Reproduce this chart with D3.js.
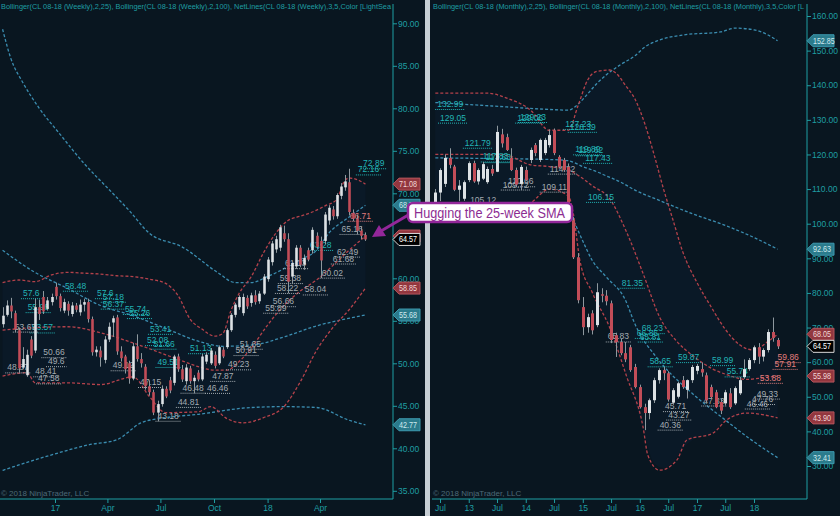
<!DOCTYPE html>
<html lang="en">
<head>
<meta charset="UTF-8">
<title>CL 08-18 Weekly / Monthly</title>
<script src="https://d3js.org/d3.v7.min.js"></script>
<style>
  body { margin: 0; background: #091620; }
  svg text { font-family: "Liberation Sans", Arial, sans-serif; }
</style>
</head>
<body>
<svg id="chart" width="840" height="516"></svg>
<script>
// ---- weekly panel (left) ----
const weekStart = new Date(2016, 9, 3);
// [open, high, low, close] per week
const weeklyOHLC = [
  [54.6,56.6,54.2,55.6],[55.7,57.4,55.5,56.8],[56.8,57.7,55.3,56.1],[55.9,56.2,53.67,54.0],[53.9,54.2,48.9,49.4],
  [49.5,51.9,49.3,50.5],[48.6,51.6,48.41,51.0],[52.8,53.2,50.6,50.9],[51.5,57.6,51.2,56.6],[56.6,57.5,55.1,55.8],
  [57.8,58.5,55.8,56.1],[56.4,57.8,56.2,57.4],[57.2,58.2,56.8,57.8],[59.0,59.48,57.5,57.9],[57.9,58.2,56.1,56.5],
  [56.2,57.6,55.9,57.2],[57.0,57.3,55.6,56.2],[55.8,57.2,55.5,56.8],[56.8,57.1,56.0,56.3],[56.0,57.5,55.6,56.9],
  [56.9,57.6,56.1,57.2],[57.2,57.6,54.8,55.2],[55.2,55.5,50.9,51.3],[51.3,52.0,50.8,51.6],[51.5,52.0,49.6,50.7],
  [50.4,53.2,50.0,52.8],[52.8,54.8,52.5,54.3],[54.8,55.6,53.1,55.3],[55.4,55.7,51.0,51.4],[51.4,52.0,50.2,50.6],
  [50.8,51.0,48.8,49.3],[50.0,50.3,47.6,48.2],[48.2,52.4,48.0,52.0],[52.0,53.41,50.2,50.5],[50.5,51.2,49.5,50.0],
  [49.6,49.9,46.9,47.3],[47.3,48.0,46.2,46.6],[46.6,46.9,43.9,44.2],[44.2,45.6,43.18,45.2],[45.2,47.4,44.9,47.0],
  [47.0,47.3,45.9,46.1],[48.0,48.4,46.48,46.8],[47.7,51.0,47.4,50.8],[50.8,51.13,49.0,49.3],[49.3,49.8,47.8,48.1],
  [47.9,49.9,47.5,49.5],[49.4,49.7,47.6,47.9],[47.9,48.6,46.46,48.3],[48.9,49.2,47.87,48.1],[48.1,51.1,47.9,50.8],
  [50.2,51.3,49.9,51.0],[50.0,51.8,49.8,51.5],[51.0,51.4,49.4,49.7],[50.0,52.1,49.8,51.9],[51.6,51.9,50.6,50.8],
  [51.9,54.1,51.7,53.9],[53.9,55.9,53.7,55.7],[55.7,57.1,55.4,56.9],[56.6,58.0,56.3,57.8],[55.9,58.2,55.6,57.8],
  [57.7,58.0,56.4,56.7],[57.1,58.3,56.66,58.0],[58.0,58.6,56.9,57.2],[57.3,58.5,57.0,58.2],[58.2,60.5,58.04,60.2],
  [59.9,62.5,59.6,62.2],[61.9,64.4,61.5,64.1],[63.4,65.0,63.0,64.6],[63.6,66.3,63.2,66.0],[65.3,66.2,64.3,64.6],
  [64.6,65.3,58.22,59.6],[60.2,62.0,59.38,61.8],[61.4,63.9,61.1,63.6],[63.6,63.9,61.3,61.6],[61.6,62.8,61.0,62.4],
  [63.3,63.6,62.0,62.2],[63.3,66.0,62.9,65.7],[65.0,65.4,63.5,63.7],[64.4,64.9,60.02,62.1],[64.4,67.8,64.0,67.5],
  [66.8,68.6,66.3,68.3],[68.1,68.5,66.9,67.3],[67.3,70.0,67.0,69.8],[69.7,71.2,69.3,70.8],[70.7,72.16,70.3,71.4],
  [71.3,72.89,67.4,67.8],[67.7,68.1,66.71,67.0],[67.0,67.5,65.16,65.6],[65.6,66.1,64.6,65.0],[65.1,65.4,64.4,64.57]
];
// Bollinger bands, [week index, value]
const wkBB25Upper = [[0,59.5],[4,59.8],[8,59.6],[12,60.4],[16,60.7],[20,60.6],[24,60.5],[28,60.3],[32,60.2],[36,59.9],[40,59.4],[43,58.0],[46,55.2],[49,54.0],[52,53.2],[54,53.5],[56,56.2],[58,58.2],[61,60.2],[64,63.0],[67,65.3],[70,66.8],[73,67.3],[76,67.8],[79,68.5],[82,69.3],[83.5,71.2],[85,71.8],[87,71.6],[89,71.08]];
const wkBB25Mid = [[0,53.9],[8,54.2],[16,54.3],[24,53.6],[32,52.4],[40,51.0],[44,50.3],[48,49.6],[52,49.2],[55,49.2],[58,50.2],[61,51.8],[65,54.5],[69,56.8],[73,58.5],[77,59.8],[81,61.5],[85,63.3],[89,64.97]];
const wkBB25Lower = [[0,48.5],[6,48.9],[8,47.7],[16,47.7],[24,47.5],[32,48.4],[36,46.1],[40,44.2],[48,44.3],[51,44.9],[55,43.5],[59,43.0],[64,43.6],[69,44.9],[73,47.8],[77,51.5],[81,54.2],[85,56.3],[89,58.85]];
const wkBB100Upper = [[0,89.3],[2,85.9],[5,83.0],[9,80.0],[14,77.0],[20,73.5],[26,70.5],[31,68.0],[36,65.3],[44,63.7],[53,60.6],[57,59.5],[61,59.5],[65,60.2],[73,62.2],[77,63.3],[80,65.3],[85,67.2],[89,68.59]];
const wkBB100Mid = [[0,63.3],[7.5,60.8],[16,58.8],[24,56.8],[32,55.6],[40,54.1],[48,52.6],[54,52.0],[62,52.2],[69,53.1],[77,54.4],[83,55.1],[89,55.68]];
const wkBB100Lower = [[0,37.4],[7,38.5],[14,39.5],[21,40.4],[28,41.0],[34,43.0],[40,43.6],[48,44.0],[61,44.8],[69,44.9],[77,44.8],[85,43.3],[89,42.77]];
// swing labels [week index, price]
const wkHighs = [[5,57.6],[15.3,58.48],[6.2,55.96],[7.2,53.57],[23.2,57.6],[24.6,57.18],[24.6,56.37],[30,55.74],[31,55.26],[36.2,53.41],[35.4,52.08],[37,51.66],[38,49.51],[46,51.13],[75.4,63.28],[88.4,72.89],[87.2,72.16]];
const wkLows = [[3,53.67],[1.1,48.87],[10,50.66],[11.1,49.6],[8,48.41],[8.7,47.58],[27,49.12],[33.7,47.15],[44.2,46.48],[43,44.81],[38,43.18],[50.1,46.46],[51.4,47.87],[55.3,49.23],[58.2,51.65],[57.2,50.91],[66.3,56.66],[64.4,55.89],[67.3,58.22],[68,59.38],[74.2,58.04],[78.3,60.02],[82,62.49],[81,61.68],[83.2,65.16],[69.3,61.13]];
const wkRecent = [[85.2,66.71]];
const wkTicks = ["17", "Apr", "Jul", "Oct", "18", "Apr"];
const wkTickDates = [new Date(2017,0,1), new Date(2017,3,1), new Date(2017,6,1), new Date(2017,9,1), new Date(2018,0,1), new Date(2018,3,1)];

// ---- monthly panel (right) ----
const monthStart = new Date(2012, 5, 1);
const monthlyOHLC = [
  [105.0,110.0,104.2,109.0],[109.0,116.0,106.5,115.5],[111.5,120.0,110.6,119.0],[119.0,121.79,116.0,117.0],[116.5,117.0,109.4,109.8],
  [109.8,112.6,106.5,111.0],[107.2,112.5,106.6,112.0],[112.6,118.0,112.0,117.5],[117.5,118.2,111.8,112.2],[112.2,116.0,111.3,115.5],
  [113.0,117.83,112.6,117.2],[112.0,116.5,111.5,115.8],[115.8,117.0,113.8,114.5],[115.0,128.3,114.9,126.5],[125.8,127.4,122.0,123.2],
  [125.0,126.0,121.0,121.3],[119.0,121.8,115.2,115.5],[115.5,116.2,110.66,111.3],[111.5,117.0,109.72,116.4],[115.5,116.5,112.3,112.6],
  [118.4,122.0,117.5,121.3],[122.7,123.3,119.5,120.4],[118.4,124.6,117.8,124.2],[120.4,124.8,119.8,124.2],[122.7,127.23,122.0,125.6],
  [127.0,127.5,119.8,120.4],[119.3,119.8,116.0,116.4],[118.4,119.0,115.0,115.5],[116.4,117.4,100.5,101.0],[101.0,102.0,89.8,90.3],
  [90.3,91.5,77.0,77.9],[75.9,78.8,67.8,70.1],[70.1,74.0,68.5,73.0],[74.1,75.0,68.0,69.2],[70.7,82.8,70.1,80.2],
  [79.6,81.35,77.3,79.2],[79.2,80.8,76.4,77.6],[77.0,77.8,65.5,66.4],[67.8,68.5,61.5,65.8],[65.8,66.86,62.0,62.6],
  [62.6,65.81,60.0,60.8],[64.3,65.0,57.2,57.7],[58.6,59.5,52.4,52.8],[52.8,53.5,46.6,47.0],[47.0,48.0,40.36,45.3],
  [45.3,49.5,43.5,49.0],[49.0,55.5,48.2,54.8],[54.8,58.2,53.8,57.7],[57.7,58.65,54.8,56.8],[56.8,57.4,48.6,49.2],
  [48.3,52.5,47.7,51.9],[50.0,54.3,49.5,53.9],[54.8,56.0,52.3,52.8],[52.0,55.0,49.5,54.8],[54.8,59.2,54.0,58.6],
  [57.5,59.5,56.5,58.9],[58.0,59.87,55.8,57.0],[56.2,57.0,48.5,49.0],[52.8,53.5,49.5,49.9],[51.3,52.0,46.7,47.0],
  [48.5,49.5,45.0,46.0],[48.1,52.0,47.5,51.3],[51.0,52.5,46.5,47.0],[48.1,53.0,47.6,52.5],[51.0,55.74,50.5,54.8],
  [55.7,60.8,55.2,58.0],[58.0,61.2,57.5,60.6],[60.6,64.8,59.7,64.3],[64.3,65.5,59.5,61.6],[61.6,64.0,60.2,63.5],
  [63.5,69.5,62.8,68.7],[68.7,72.89,65.9,67.0],[66.4,67.0,63.8,64.57]
];
// [month index from Jun 2012, value]
const moBB25Upper = [[0,137.7],[11,137.7],[15,136.3],[20,132.8],[24,127],[28,127],[30,134],[32,141.5],[34,144],[36.7,144.4],[38,143.5],[40,140],[42,136],[44,129],[46,120],[48,110],[50,101],[52,92],[55,83],[58,76],[61,69.5],[64,65],[67,63.5],[70,66],[72,68.05]];
const moBB25Mid = [[0,120],[11,120],[15,119.7],[20,117],[24,116.5],[28,115.5],[30,114],[33,111],[36.7,107.2],[40.3,97.4],[43.7,85.6],[47.2,73],[50.8,66],[54,62],[58.4,58],[61.3,56.4],[65.5,55],[69,55.5],[72,55.98]];
const moBB25Lower = [[0,102.5],[11,102.5],[15,103],[20,106],[24,110],[28,108],[29,103],[30.4,89.5],[33.1,80],[36.7,70],[40.3,55.7],[43.7,41.2],[44.7,33],[47.2,28.8],[50.8,31.7],[52.9,37.5],[58.4,39.5],[61.3,43.3],[65.5,45.3],[72,43.9]];
const moBB100Upper = [[0,135],[12,134],[24,133],[28,132.8],[30,134.5],[32,137.5],[34,140.5],[36,143],[39,146],[42,148.5],[44,151],[47,153],[52,154.5],[60,155.4],[63,156.5],[67,156],[70,154.5],[72,152.85]];
const moBB100Mid = [[0,119],[13,118.8],[25,118.5],[28,118.2],[31,116.5],[34,115],[36,113.8],[39,112],[42,109.7],[47,106.8],[54,102.9],[61,99.5],[67,96],[72,92.63]];
const moBB100Lower = [[0,103],[13,103.6],[25,104],[28,103.5],[29,101],[31,95],[33,89.5],[36,84.6],[40,77.9],[42,71],[47,60.6],[54,51],[61,43.3],[66,38],[72,32.41]];
const moHighs = [[0.4,132.99],[1,129.05],[6.2,121.79],[10,117.83],[10.6,117.63],[17.2,129.06],[17.8,129.23],[27.3,127.23],[28.3,126.39],[29.4,119.89],[30,119.62],[31.5,117.43],[32.1,106.15],[39.2,81.35],[43.4,68.23],[42.4,66.86],[43,65.81],[45.1,58.65],[51,59.87],[58.2,58.99],[61.3,55.74]];
const moLows = [[7.3,105.12],[15.3,110.66],[14.2,109.72],[22.4,109.11],[24.1,114.32],[36.3,65.83],[47.2,40.36],[48.3,45.71],[49,43.27],[56.3,47.33],[67.6,49.33],[65.5,46.46],[66.6,47.76]];
const moRecent = [[72,59.86],[71.4,57.91],[68.2,53.88]];
const moTicks = ["Jul", "13", "Jul", "14", "Jul", "15", "Jul", "16", "Jul", "17", "Jul", "18"];
const moTickDates = d3.range(12).map(k => new Date(2012 + Math.floor((k + 1) / 2), k % 2 === 0 ? 6 : 0, 1));

// ---- colours ----
const teal = "#1f9ea3", upFill = "#dde2e5", dnFill = "#c24d58", wickCol = "#8e989e";
const redBand = "#b4424b", tealBand = "#3b8db0";
const hiCol = "#22b4b6", loCol = "#a3abb1", recentCol = "#e27d7d";

const svg = d3.select("#chart");
svg.append("rect").attr("width", 840).attr("height", 516).attr("fill", "#091620");

function panel(opt) {
  const g = svg.append("g");
  const x = opt.x, y = opt.y;
  const clipId = "clip" + opt.id;
  svg.append("clipPath").attr("id", clipId).append("rect")
    .attr("x", opt.left).attr("y", 0).attr("width", opt.axisX - opt.left).attr("height", opt.bottom);
  const plot = g.append("g").attr("clip-path", "url(#" + clipId + ")");
  const dateOf = opt.dateOf;

  // faint shading inside the 25-period band
  const area = d3.area().x(d => x(dateOf(d[0]))).y0(d => y(d[1])).y1(d => y(d[2])).curve(d3.curveMonotoneX);
  const bandPts = opt.bb25u.map(d => [d[0], d[1], interp(opt.bb25l, d[0])]);
  plot.append("path").attr("d", area(bandPts)).attr("fill", "#16305a").attr("opacity", 0.13);

  // bands
  const line = d3.line().x(d => x(dateOf(d[0]))).y(d => y(d[1])).curve(d3.curveMonotoneX);
  [[opt.bb100u, tealBand], [opt.bb100m, tealBand], [opt.bb100l, tealBand],
   [opt.bb25u, redBand], [opt.bb25m, redBand], [opt.bb25l, redBand]].forEach(b => {
    plot.append("path").attr("d", line(b[0])).attr("fill", "none")
      .attr("stroke", b[1]).attr("stroke-width", 1.3).attr("stroke-dasharray", "3,2");
  });

  // swing labels
  function labels(list, col) {
    list.forEach(d => {
      const lx = x(dateOf(d[0])), ly = y(d[1]);
      const t = plot.append("text").attr("x", lx).attr("y", ly - 2.5)
        .attr("font-size", 8.5).attr("fill", col).text(String(d[1]));
      const w = t.node().getComputedTextLength();
      plot.append("line").attr("x1", lx - 2).attr("x2", lx + w + 2).attr("y1", ly).attr("y2", ly)
        .attr("stroke", col).attr("stroke-width", 1).attr("stroke-dasharray", "1,1");
    });
  }
  labels(opt.highs, hiCol);
  labels(opt.lows, loCol);
  labels(opt.recent, recentCol);

  // candles
  const bw = opt.bodyW;
  opt.ohlc.forEach((d, i) => {
    const cx = Math.round(x(dateOf(i))) + 0.5;
    const up = d[3] >= d[0];
    plot.append("line").attr("x1", cx).attr("x2", cx).attr("y1", y(d[1])).attr("y2", y(d[2]))
      .attr("stroke", wickCol).attr("stroke-width", 1);
    const top = y(Math.max(d[0], d[3])), bot = y(Math.min(d[0], d[3]));
    plot.append("rect").attr("x", cx - bw / 2).attr("y", top).attr("width", bw)
      .attr("height", Math.max(1, bot - top)).attr("fill", up ? upFill : dnFill);
  });

  // header and copyright
  plot.append("text").attr("x", opt.left + 1).attr("y", 9).attr("font-size", 8)
    .attr("textLength", opt.titleW).attr("lengthAdjust", "spacingAndGlyphs")
    .attr("fill", teal).text(opt.title);
  plot.append("text").attr("x", opt.left + 1).attr("y", 496).attr("font-size", 8)
    .attr("fill", "#4d6a78").text("\u00a9 2018 NinjaTrader, LLC");

  // axes
  g.append("line").attr("x1", opt.axisX).attr("x2", opt.axisX).attr("y1", 4).attr("y2", opt.bottom)
    .attr("stroke", teal).attr("stroke-width", 1);
  g.append("line").attr("x1", opt.left).attr("x2", opt.axisX).attr("y1", opt.bottom).attr("y2", opt.bottom)
    .attr("stroke", teal).attr("stroke-width", 1);
  const yAxis = d3.axisRight(y).tickValues(opt.yTicks).tickSize(4).tickFormat(d3.format(".2f"));
  const ya = g.append("g").attr("transform", "translate(" + opt.axisX + ",0)").call(yAxis);
  const xAxis = d3.axisBottom(x).tickValues(opt.tickDates).tickSize(4)
    .tickFormat((d, i) => opt.tickNames[i]);
  const xa = g.append("g").attr("transform", "translate(0," + opt.bottom + ")").call(xAxis);
  [ya, xa].forEach(a => {
    a.select(".domain").remove();
    a.selectAll("line").attr("stroke", teal);
    a.selectAll("text").attr("fill", teal).attr("font-size", 8.5)
      .attr("font-family", "Liberation Sans, Arial, sans-serif");
  });
  ya.selectAll("text").attr("x", 5);
  xa.selectAll("text").attr("y", 6);

  // price badges
  opt.badges.forEach(b => {
    const by = y(b[0]), bx = opt.axisX, s = b[0].toFixed(2);
    g.append("path")
      .attr("d", `M${bx},${by} L${bx + 6},${by - 6} L${bx + 27},${by - 6} L${bx + 27},${by + 6} L${bx + 6},${by + 6} Z`)
      .attr("fill", b[1]).attr("stroke", b[2]).attr("stroke-width", 1);
    g.append("text").attr("x", bx + 6).attr("y", by + 3).attr("font-size", 8.5)
      .attr("textLength", s.length * 3.6).attr("lengthAdjust", "spacingAndGlyphs")
      .attr("fill", b[3]).text(s);
  });
}

// value of a sampled band at index t (for the shading only)
function interp(pts, t) {
  for (let k = 1; k < pts.length; k++) {
    if (t <= pts[k][0]) {
      const a = pts[k - 1], b = pts[k], f = (t - a[0]) / (b[0] - a[0]);
      return a[1] + f * (b[1] - a[1]);
    }
  }
  return pts[pts.length - 1][1];
}

const badgeRed = ["#93373f", "#b5555c", "#f2d6d6"];
const badgeTeal = ["#2b7b8c", "#3d9bb0", "#cfe9ee"];
const badgeBlack = ["#000000", "#d8d8d8", "#ffffff"];

panel({
  id: "W", left: 0, axisX: 393, bottom: 499, bodyW: 2.6,
  x: d3.scaleTime().domain([new Date(2017, 0, 1), new Date(2018, 3, 1)]).range([55, 320]),
  y: d3.scaleLinear().domain([35, 90]).range([490.8, 23.3]),
  dateOf: i => d3.timeDay.offset(weekStart, Math.round(i * 7)),
  ohlc: weeklyOHLC,
  bb25u: wkBB25Upper, bb25m: wkBB25Mid, bb25l: wkBB25Lower,
  bb100u: wkBB100Upper, bb100m: wkBB100Mid, bb100l: wkBB100Lower,
  highs: wkHighs, lows: wkLows, recent: wkRecent,
  yTicks: d3.range(35, 91, 5), tickDates: wkTickDates, tickNames: wkTicks,
  title: "Bollinger(CL 08-18 (Weekly),2,25), Bollinger(CL 08-18 (Weekly),2,100), NetLines(CL 08-18 (Weekly),3,5,Color [LightSea",
  titleW: 390,
  badges: [[71.08, ...badgeRed], [68.59, ...badgeTeal], [64.97, ...badgeRed], [64.57, ...badgeBlack],
           [58.85, ...badgeRed], [55.68, ...badgeTeal], [42.77, ...badgeTeal]]
});

panel({
  id: "M", left: 432, axisX: 807, bottom: 499, bodyW: 3,
  x: d3.scaleTime().domain([new Date(2012, 6, 1), new Date(2018, 0, 1)]).range([440, 754]),
  y: d3.scaleLinear().domain([30, 160]).range([466, 16]),
  dateOf: i => { const m = Math.floor(i), f = i - m; return d3.timeDay.offset(d3.timeMonth.offset(monthStart, m), Math.round(f * 30)); },
  ohlc: monthlyOHLC,
  bb25u: moBB25Upper, bb25m: moBB25Mid, bb25l: moBB25Lower,
  bb100u: moBB100Upper, bb100m: moBB100Mid, bb100l: moBB100Lower,
  highs: moHighs, lows: moLows, recent: moRecent,
  yTicks: d3.range(30, 161, 10), tickDates: moTickDates, tickNames: moTicks,
  title: "Bollinger(CL 08-18 (Monthly),2,25), Bollinger(CL 08-18 (Monthly),2,100), NetLines(CL 08-18 (Monthly),3,5,Color [L",
  titleW: 371,
  badges: [[152.85, ...badgeTeal], [92.63, ...badgeTeal], [68.05, ...badgeRed], [64.57, ...badgeBlack],
           [55.98, ...badgeRed], [43.90, ...badgeRed], [32.41, ...badgeTeal]]
});

// panel divider
svg.append("rect").attr("x", 425).attr("y", 0).attr("width", 5).attr("height", 516).attr("fill", "#c6ced4");

// callout
const callout = svg.append("g");
callout.append("line").attr("x1", 410).attr("y1", 214).attr("x2", 381).attr("y2", 231)
  .attr("stroke", "#93279a").attr("stroke-width", 3);
callout.append("path").attr("d", "M372,237 L379,225 L386,236 Z").attr("fill", "#93279a");
callout.append("rect").attr("x", 408).attr("y", 203).attr("width", 164).attr("height", 19).attr("rx", 5)
  .attr("fill", "#ffffff").attr("stroke", "#93279a").attr("stroke-width", 2.5);
callout.append("text").attr("x", 414).attr("y", 217.5)
  .attr("font-size", 14).attr("textLength", 151).attr("lengthAdjust", "spacingAndGlyphs")
  .attr("fill", "#8c2c92").text("Hugging the 25-week SMA");
</script>
</body>
</html>
